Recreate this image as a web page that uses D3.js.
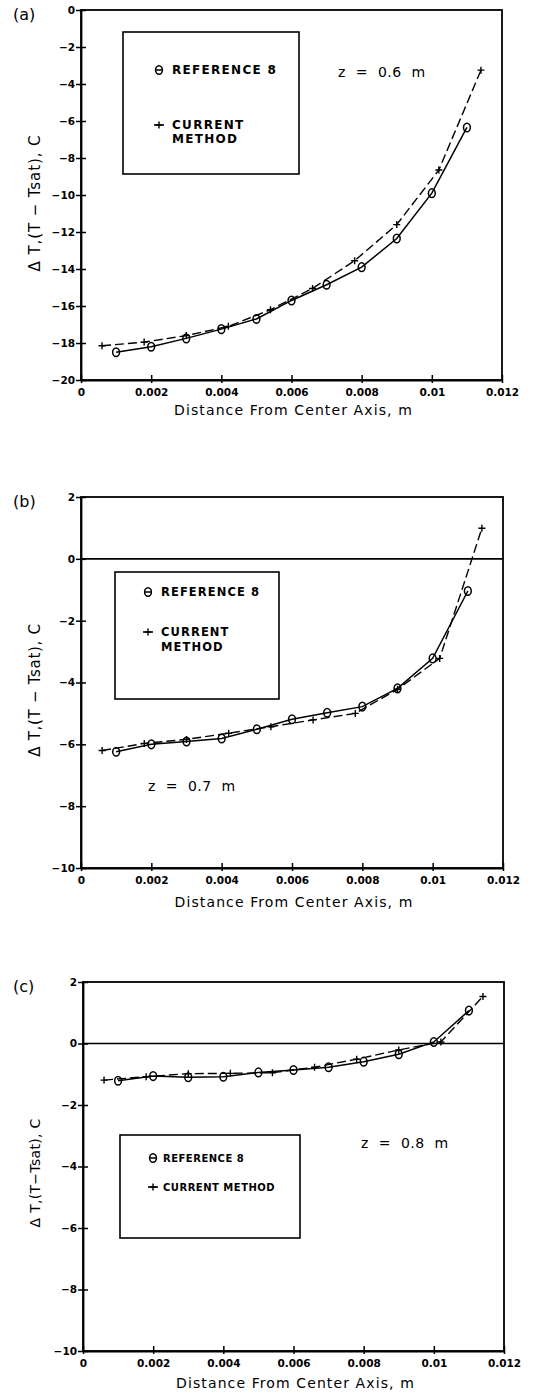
<!DOCTYPE html>
<html>
<head>
<meta charset="utf-8">
<script src="https://cdn.jsdelivr.net/npm/d3@7"></script>
<style>
  html, body { margin: 0; padding: 0; background: #fff; }
  svg { display: block; }
  text { font-family: "DejaVu Sans", sans-serif; fill: #000; }
</style>
</head>
<body>
<svg id="fig" width="544" height="1393"></svg>
<script>
// Radial temperature profiles, ΔT = T - Tsat, at three axial stations
const xTickValues = [0, 0.002, 0.004, 0.006, 0.008, 0.01, 0.012];
const xTickLabels = ["0", "0.002", "0.004", "0.006", "0.008", "0.01", "0.012"];

// Reference 8 is sampled on a 1 mm grid, the current method on a 1.2 mm grid
const refX = [0.001, 0.002, 0.003, 0.004, 0.005, 0.006, 0.007, 0.008, 0.009, 0.010, 0.011];
const curX = [0.0006, 0.0018, 0.0030, 0.0042, 0.0054, 0.0066, 0.0078, 0.0090, 0.0102, 0.0114];

// z = 0.6 m
const refA = [-18.5, -18.2, -17.75, -17.25, -16.7, -15.7, -14.85, -13.9, -12.35, -9.9, -6.35];
const curA = [-18.15, -17.95, -17.6, -17.1, -16.2, -15.05, -13.55, -11.6, -8.65, -3.25];
const yTicksA = [0, -2, -4, -6, -8, -10, -12, -14, -16, -18, -20];

// z = 0.7 m
const refB = [-6.24, -6.0, -5.91, -5.81, -5.51, -5.19, -4.98, -4.78, -4.19, -3.22, -1.04];
const curB = [-6.2, -5.97, -5.84, -5.64, -5.43, -5.21, -5.0, -4.22, -3.22, 0.99];
const yTicksB = [2, 0, -2, -4, -6, -8, -10];

// z = 0.8 m
const refC = [-1.21, -1.06, -1.1, -1.08, -0.94, -0.86, -0.77, -0.59, -0.35, 0.05, 1.07];
const curC = [-1.19, -1.08, -0.98, -0.97, -0.95, -0.77, -0.51, -0.21, 0.05, 1.53];
const yTicksC = [2, 0, -2, -4, -6, -8, -10];

const seriesNames = ["REFERENCE 8", "CURRENT METHOD"];
const xTitle = "Distance From Center Axis, m";

const svg = d3.select("#fig");
const fmtY = v => (v < 0 ? "\u2212" + Math.abs(v) : String(v));

const panels = [
  {
    tag: "(a)", ref: refA, cur: curA, yTicks: yTicksA, yDomain: [-20, 0], zeroLine: false,
    box: { left: 81, right: 502, top: 10, bottom: 380 },
    yTitle: "\u0394 T,(T \u2212 Tsat), C", yTitleY: 203, yTitleSize: 15, yTitleSpacing: 0.9,
    zLabel: "z = 0.6 m", zPos: [338, 77],
    legend: { x0: 123, y0: 32, x1: 299, y1: 174, mx: 159, tx: 172, rows: [[70], [125, 139]], size: 12, spacing: 1.3, twoLine: true },
    tickBase: 396, titleBase: 415
  },
  {
    tag: "(b)", ref: refB, cur: curB, yTicks: yTicksB, yDomain: [-10, 2], zeroLine: true,
    box: { left: 81, right: 503, top: 497, bottom: 868 },
    yTitle: "\u0394 T,(T \u2212 Tsat), C", yTitleY: 690, yTitleSize: 15, yTitleSpacing: 0.7,
    zLabel: "z = 0.7 m", zPos: [148, 791],
    legend: { x0: 115, y0: 572, x1: 279, y1: 699, mx: 148, tx: 161, rows: [[592], [632, 647]], size: 11.5, spacing: 1.1, twoLine: true },
    tickBase: 884, titleBase: 907
  },
  {
    tag: "(c)", ref: refC, cur: curC, yTicks: yTicksC, yDomain: [-10, 2], zeroLine: true,
    box: { left: 83, right: 504, top: 982, bottom: 1351 },
    yTitle: "\u0394 T,(T\u2212Tsat), C", yTitleY: 1173, yTitleSize: 14, yTitleSpacing: 0.3,
    zLabel: "z = 0.8 m", zPos: [361, 1148],
    legend: { x0: 120, y0: 1135, x1: 300, y1: 1238, mx: 153, tx: 163, rows: [[1158], [1187]], size: 10, spacing: 0.5, twoLine: false },
    tickBase: 1367, titleBase: 1388
  }
];

function circleMarker(g, x, y) {
  g.append("ellipse").attr("cx", x).attr("cy", y).attr("rx", 3.4).attr("ry", 4.3)
    .attr("fill", "none").attr("stroke", "#000").attr("stroke-width", 1.5);
}
function plusMarker(g, x, y, s) {
  g.append("path").attr("d", `M${x - s},${y}H${x + s}M${x},${y - s}V${y + s}`)
    .attr("stroke", "#000").attr("stroke-width", 1.4).attr("fill", "none");
}

panels.forEach(p => {
  const b = p.box;
  const x = d3.scaleLinear().domain([0, 0.012]).range([b.left, b.right]);
  const y = d3.scaleLinear().domain(p.yDomain).range([b.bottom, b.top]);
  const g = svg.append("g");

  // frame
  g.append("rect").attr("x", b.left).attr("y", b.top)
    .attr("width", b.right - b.left).attr("height", b.bottom - b.top)
    .attr("fill", "none").attr("stroke", "#000").attr("stroke-width", 1.8);

  if (p.zeroLine) {
    g.append("line").attr("x1", b.left).attr("x2", b.right)
      .attr("y1", y(0)).attr("y2", y(0))
      .attr("stroke", "#000").attr("stroke-width", 1.6);
  }

  // y axis: ticks crossing the axis line
  const yAxis = d3.axisLeft(y).tickValues(p.yTicks).tickSizeInner(5).tickSizeOuter(0)
    .tickPadding(2).tickFormat(fmtY);
  const ya = g.append("g").attr("transform", `translate(${b.left},0)`).call(yAxis);
  ya.select(".domain").attr("stroke-width", 1.8);
  ya.selectAll(".tick line").attr("x2", 5).attr("x1", -5).attr("stroke-width", 1.5);
  ya.selectAll(".tick text").attr("x", -6)
    .style("font-family", "DejaVu Sans").style("font-weight", "bold").style("font-size", "10.5px");

  // x axis
  const xAxis = d3.axisBottom(x).tickValues(xTickValues).tickSizeInner(3).tickSizeOuter(0)
    .tickFormat((d, i) => xTickLabels[i]);
  const xa = g.append("g").attr("transform", `translate(0,${b.bottom})`).call(xAxis);
  xa.select(".domain").attr("stroke-width", 1.8);
  xa.selectAll(".tick line").attr("y1", -5).attr("y2", 3).attr("stroke-width", 1.5);
  xa.selectAll(".tick text").attr("y", null).attr("dy", null)
    .attr("transform", `translate(0,${p.tickBase - b.bottom})`)
    .style("font-family", "DejaVu Sans").style("font-weight", "bold").style("font-size", "10.5px");

  // axis titles
  g.append("text").attr("x", (b.left + b.right) / 2 + 2).attr("y", p.titleBase)
    .attr("text-anchor", "middle").style("font-size", "14px").style("letter-spacing", "1.1px")
    .text(xTitle);
  g.append("text").attr("transform", `translate(40,${p.yTitleY}) rotate(-90)`)
    .attr("text-anchor", "middle").style("font-size", p.yTitleSize + "px")
    .style("letter-spacing", p.yTitleSpacing + "px")
    .text(p.yTitle);

  // panel tag
  g.append("text").attr("x", 13).attr("y", b.top + 10).style("font-size", "16px").text(p.tag);

  // series lines
  const line = d3.line().x(d => x(d[0])).y(d => y(d[1]));
  const refPts = refX.map((v, i) => [v, p.ref[i]]);
  const curPts = curX.map((v, i) => [v, p.cur[i]]);
  g.append("path").attr("d", line(curPts)).attr("fill", "none").attr("stroke", "#000")
    .attr("stroke-width", 1.4).attr("stroke-dasharray", "9,4");
  g.append("path").attr("d", line(refPts)).attr("fill", "none").attr("stroke", "#000")
    .attr("stroke-width", 1.5);
  curPts.forEach(d => plusMarker(g, x(d[0]), y(d[1]), 3.5));
  refPts.forEach(d => circleMarker(g, x(d[0]), y(d[1])));

  // state label
  g.append("text").attr("x", p.zPos[0]).attr("y", p.zPos[1])
    .style("font-size", "14px").style("letter-spacing", "0.5px")
    .attr("xml:space", "preserve").text(p.zLabel.replace(/ /g, "  "));

  // legend
  const L = p.legend;
  const legendText = (yy, s) => g.append("text").attr("x", L.tx).attr("y", yy + L.size * 0.37)
    .style("font-weight", "bold").style("font-size", L.size + "px")
    .style("letter-spacing", L.spacing + "px").text(s);
  g.append("rect").attr("x", L.x0).attr("y", L.y0)
    .attr("width", L.x1 - L.x0).attr("height", L.y1 - L.y0)
    .attr("fill", "none").attr("stroke", "#000").attr("stroke-width", 1.6);
  const r0 = L.rows[0][0];
  g.append("line").attr("x1", L.mx - 4).attr("x2", L.mx + 4).attr("y1", r0).attr("y2", r0)
    .attr("stroke", "#000").attr("stroke-width", 1.5);
  circleMarker(g, L.mx, r0);
  legendText(r0, seriesNames[0]);
  const r1 = L.rows[1][0];
  g.append("line").attr("x1", L.mx - 5).attr("x2", L.mx + 5).attr("y1", r1).attr("y2", r1)
    .attr("stroke", "#000").attr("stroke-width", 1.5);
  plusMarker(g, L.mx, r1, 3.5);
  if (L.twoLine) {
    seriesNames[1].split(" ").forEach((w, k) => legendText(L.rows[1][k], w));
  } else {
    legendText(r1, seriesNames[1]);
  }
});
</script>
</body>
</html>
